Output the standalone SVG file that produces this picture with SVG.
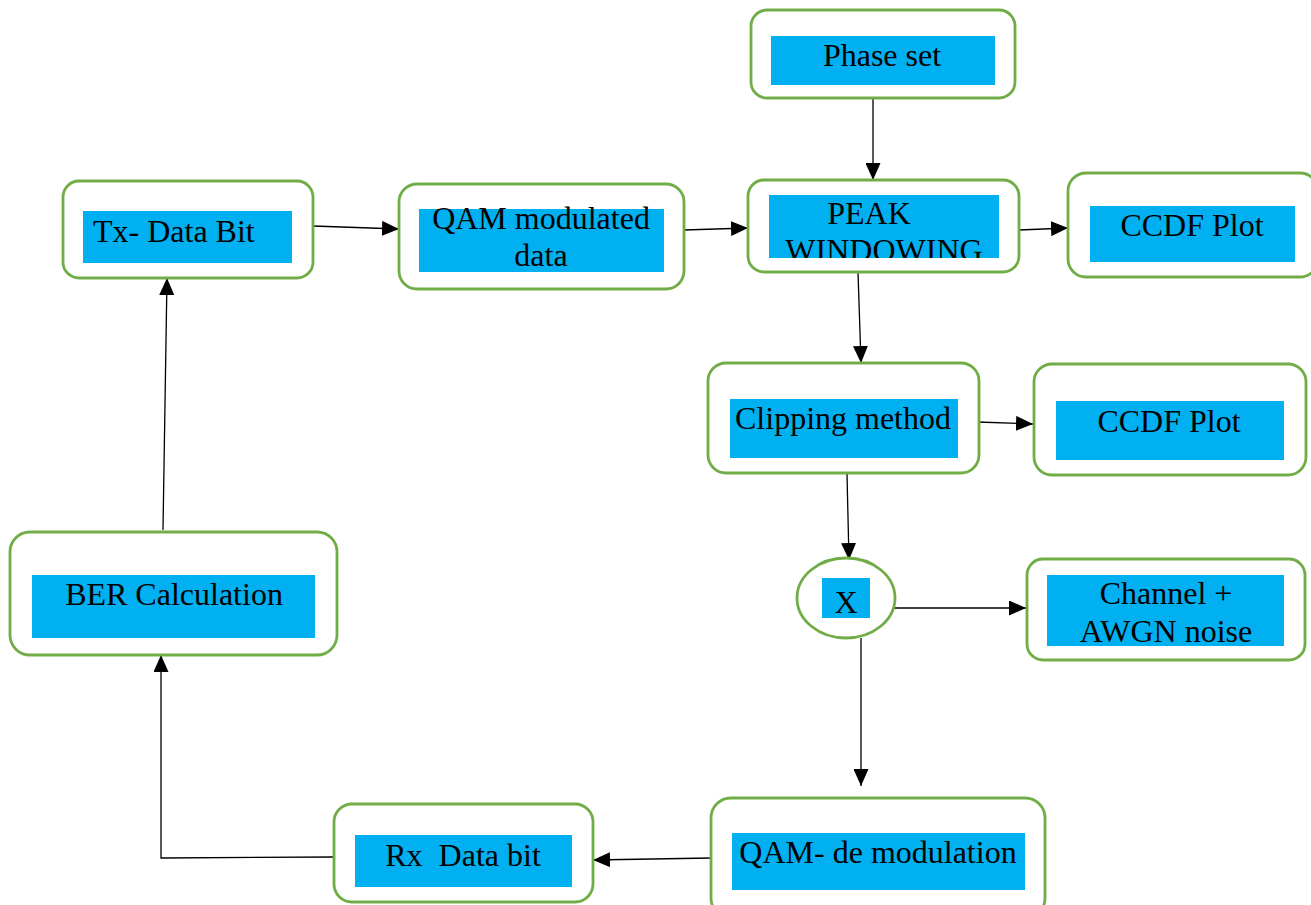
<svg xmlns="http://www.w3.org/2000/svg" width="1311" height="905" viewBox="0 0 1311 905">
<style>
.box{fill:#fff;stroke:#70AD47;stroke-width:2.8}
.in{fill:#00B0F0}
.t{font-family:"Liberation Serif","Times New Roman",serif;font-size:32px;fill:#000;text-anchor:middle}
.c{stroke:#000;stroke-width:1.3;fill:none}
</style>
<defs>
<marker id="ah" markerUnits="userSpaceOnUse" markerWidth="17" markerHeight="15" refX="17" refY="7.5" orient="auto">
<path d="M0,0 L17,7.5 L0,15 Z" fill="#000"/>
</marker>
<clipPath id="pk"><rect x="769" y="195" width="230" height="63"/></clipPath>
</defs>
<rect width="1311" height="905" fill="#fff"/>
<g id="connectors">
<line class="c" x1="873" y1="98" x2="873" y2="180" marker-end="url(#ah)"/>
<line class="c" x1="313" y1="226" x2="399" y2="229" marker-end="url(#ah)"/>
<line class="c" x1="684" y1="230" x2="748" y2="228" marker-end="url(#ah)"/>
<line class="c" x1="1019" y1="230" x2="1068" y2="228" marker-end="url(#ah)"/>
<line class="c" x1="858" y1="272" x2="861" y2="363" marker-end="url(#ah)"/>
<line class="c" x1="977" y1="422" x2="1033" y2="424" marker-end="url(#ah)"/>
<line class="c" x1="847" y1="474" x2="849" y2="560" marker-end="url(#ah)"/>
<line class="c" x1="890" y1="608" x2="1026" y2="608" marker-end="url(#ah)"/>
<line class="c" x1="861" y1="638" x2="861" y2="786" marker-end="url(#ah)"/>
<line class="c" x1="711" y1="858" x2="593" y2="860" marker-end="url(#ah)"/>
<polyline class="c" points="334,857 161,858 161,655" marker-end="url(#ah)"/>
<line class="c" x1="163" y1="530" x2="167" y2="278" marker-end="url(#ah)"/>
</g>
<g id="phase-set">
<rect class="box" x="751" y="10" width="264" height="88" rx="16"/>
<rect class="in" x="771" y="36" width="224" height="49"/>
<text class="t" x="882" y="66">Phase set</text>
</g>
<g id="peak-windowing">
<rect class="box" x="748" y="180" width="271" height="92" rx="16"/>
<rect class="in" x="769" y="195" width="230" height="63"/>
<g clip-path="url(#pk)">
<text class="t" x="869" y="224">PEAK</text>
<text class="t" x="884" y="261">WINDOWING</text>
</g>
</g>
<g id="ccdf-1">
<rect class="box" x="1068" y="173" width="250" height="104" rx="18"/>
<rect class="in" x="1090" y="206" width="205" height="56"/>
<text class="t" x="1192" y="236">CCDF Plot</text>
</g>
<g id="tx-data-bit">
<rect class="box" x="63" y="181" width="250" height="97" rx="16"/>
<rect class="in" x="83" y="211" width="209" height="52"/>
<text class="t" x="93" y="242" style="text-anchor:start">Tx- Data Bit</text>
</g>
<g id="qam-modulated">
<rect class="box" x="399" y="184" width="285" height="105" rx="18"/>
<rect class="in" x="419" y="209" width="245" height="63"/>
<text class="t" x="541" y="229">QAM modulated</text>
<text class="t" x="541" y="266">data</text>
</g>
<g id="clipping">
<rect class="box" x="708" y="363" width="271" height="110" rx="18"/>
<rect class="in" x="730" y="399" width="228" height="59"/>
<text class="t" x="843" y="429">Clipping method</text>
</g>
<g id="ccdf-2">
<rect class="box" x="1034" y="364" width="272" height="111" rx="18"/>
<rect class="in" x="1056" y="401" width="228" height="59"/>
<text class="t" x="1169" y="432">CCDF Plot</text>
</g>
<g id="multiplier">
<ellipse class="box" cx="846" cy="598" rx="49" ry="40"/>
<rect class="in" x="822" y="578" width="48" height="40"/>
<text class="t" x="846" y="613">X</text>
</g>
<g id="channel">
<rect class="box" x="1027" y="559" width="278" height="101" rx="16"/>
<rect class="in" x="1047" y="575" width="237" height="71"/>
<text class="t" x="1166" y="604">Channel +</text>
<text class="t" x="1166" y="642">AWGN noise</text>
</g>
<g id="ber">
<rect class="box" x="10" y="532" width="327" height="123" rx="20"/>
<rect class="in" x="32" y="575" width="283" height="63"/>
<text class="t" x="174" y="605">BER Calculation</text>
</g>
<g id="qam-demod">
<rect class="box" x="711" y="798" width="334" height="120" rx="20"/>
<rect class="in" x="732" y="833" width="293" height="57"/>
<text class="t" x="878" y="863">QAM- de modulation</text>
</g>
<g id="rx-data-bit">
<rect class="box" x="334" y="804" width="259" height="98" rx="18"/>
<rect class="in" x="355" y="835" width="217" height="52"/>
<text class="t" x="463" y="866" xml:space="preserve">Rx  Data bit</text>
</g>
</svg>
